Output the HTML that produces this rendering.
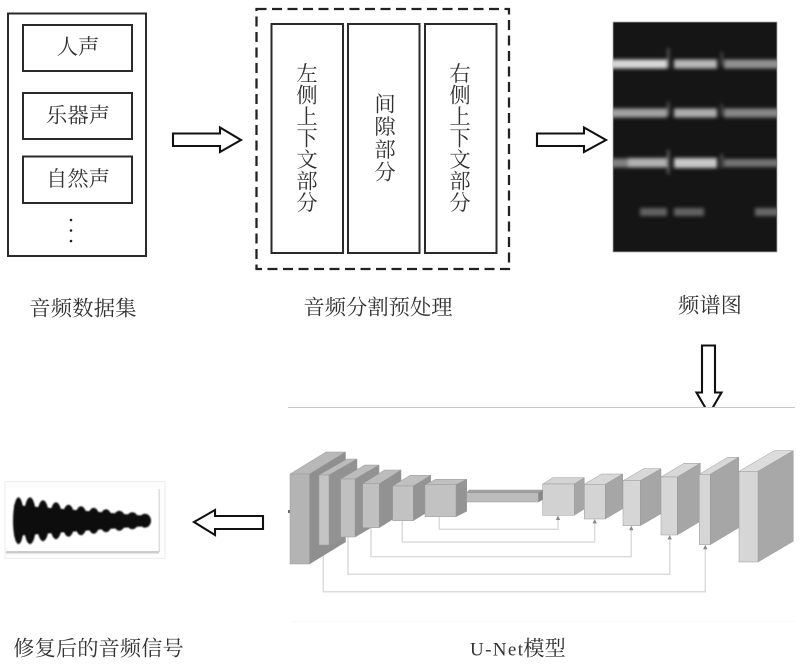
<!DOCTYPE html>
<html><head><meta charset="utf-8"><style>
html,body{margin:0;padding:0;background:#fff;width:800px;height:664px;overflow:hidden}
svg{display:block}
text{font-family:"Liberation Serif","Noto Serif CJK SC",serif;font-size:21.3px;fill:#333;text-anchor:middle}
.b{fill:#fff;stroke:#2a2a2a;stroke-width:2}
.a{fill:#fff;stroke:#111;stroke-width:2.1}
.c{fill:none;stroke:#dcdcdc;stroke-width:1.5}
</style></head><body>
<svg width="800" height="664" viewBox="0 0 800 664" xmlns="http://www.w3.org/2000/svg">
<defs>
<filter id="s" x="-10%" y="-10%" width="120%" height="120%"><feGaussianBlur stdDeviation="0.35"/></filter>
<filter id="bl" x="-20%" y="-100%" width="140%" height="300%"><feGaussianBlur stdDeviation="1.8"/></filter>
<filter id="bw" x="-10%" y="-10%" width="120%" height="120%"><feGaussianBlur stdDeviation="0.9"/></filter>
<clipPath id="sp"><rect x="613" y="22" width="164" height="230"/></clipPath>
<clipPath id="dn"><rect x="680" y="340" width="60" height="67"/></clipPath>
</defs>

<!-- dataset -->
<rect class="b" x="8" y="13.500" width="138" height="242.500"/>
<rect class="b" x="23" y="25" width="109" height="46"/>
<rect class="b" x="23" y="93" width="109" height="46"/>
<rect class="b" x="23" y="156.500" width="109" height="46.500"/>
<g filter="url(#s)">
<text x="78" y="54">人声</text>
<text x="78" y="122.500">乐器声</text>
<text x="78" y="186">自然声</text>
<text x="83" y="315.500" style="letter-spacing:.2px">音频数据集</text>
</g>
<circle cx="71" cy="220" r="1.300" fill="#222"/><circle cx="71" cy="230.500" r="1.300" fill="#222"/><circle cx="71" cy="241" r="1.300" fill="#222"/>

<!-- arrows -->
<path class="a" d="M173 133.500H220V127.500L241 140L220 152V146H173Z"/>
<path class="a" d="M537 133.500H584V127.500L606 140L584 152V146H537Z"/>
<path class="a" clip-path="url(#dn)" d="M702 345.500H715V392.500H721.500L709 414L696.500 392.500H702Z"/>
<path class="a" d="M263 516H215V510L194 522L215 535V529H263Z"/>

<!-- segmentation -->
<rect x="256.500" y="9" width="252.500" height="260" fill="none" stroke="#222" stroke-width="2.300" stroke-dasharray="10 5.500"/>
<rect class="b" x="271.500" y="24" width="71.500" height="229"/>
<rect class="b" x="348" y="24" width="71.500" height="229"/>
<rect class="b" x="425" y="24" width="71.500" height="229"/>
<g filter="url(#s)">
<text x="307" y="81">左</text><text x="307" y="102.500">侧</text><text x="307" y="124">上</text><text x="307" y="145.500">下</text><text x="307" y="167">文</text><text x="307" y="188.500">部</text><text x="307" y="210">分</text>
<text x="385" y="111.500">间</text><text x="385" y="134">隙</text><text x="385" y="157">部</text><text x="385" y="179.500">分</text>
<text x="460" y="81">右</text><text x="460" y="102.500">侧</text><text x="460" y="124">上</text><text x="460" y="145.500">下</text><text x="460" y="167">文</text><text x="460" y="188.500">部</text><text x="460" y="210">分</text>
<text x="378" y="314.500">音频分割预处理</text>
<text x="710" y="312.500">频谱图</text>
</g>

<!-- spectrogram -->
<rect x="613" y="22" width="164" height="230" fill="#151515" stroke="#aaa" stroke-width="0.800"/>
<g clip-path="url(#sp)">
<g filter="url(#bl)">
<rect x="608" y="59.500" width="59" height="9" fill="#d8d8d8"/>
<rect x="674" y="59.500" width="43" height="9" fill="#b8b8b8"/>
<rect x="724" y="59.500" width="58" height="9" fill="#909090"/>
<rect x="608" y="108.500" width="59" height="9" fill="#a0a0a0"/>
<rect x="674" y="108.500" width="43" height="9" fill="#acacac"/>
<rect x="724" y="108.500" width="58" height="9" fill="#868686"/>
<rect x="608" y="158.500" width="20" height="9" fill="#808080"/>
<rect x="628" y="158" width="39" height="9.500" fill="#b0b0b0"/>
<rect x="674" y="158" width="43" height="10" fill="#c8c8c8"/>
<rect x="724" y="159" width="58" height="8" fill="#747474"/>
<rect x="640" y="208" width="27" height="8" fill="#626262"/>
<rect x="674" y="208" width="30" height="8" fill="#626262"/>
<rect x="755" y="208" width="27" height="8" fill="#666"/>
<rect x="667.300" y="48" width="2" height="20" fill="#666"/>
<rect x="667.300" y="102" width="2" height="14" fill="#666"/>
<rect x="667.300" y="150" width="2" height="24" fill="#777"/>
<rect x="720.800" y="52" width="2" height="14" fill="#555"/>
<rect x="720.800" y="104" width="2" height="12" fill="#555"/>
<rect x="720.800" y="154" width="2" height="14" fill="#666"/>
</g>
</g>

<!-- separator lines -->
<line x1="288" y1="407.500" x2="795" y2="407.500" stroke="#c8c8c8" stroke-width="1"/>
<line x1="290" y1="621.500" x2="795" y2="621.500" stroke="#f8f8f8" stroke-width="1"/>

<!-- U-Net connectors -->
<path class="c" d="M439.300 517V529.300H558V520"/>
<path class="c" d="M402.300 521V542H594.700V524"/>
<path class="c" d="M371 528V556.700H631.300V530"/>
<path class="c" d="M348 537V574.300H669.700V540"/>
<path class="c" d="M323.300 545V591.700H705.300V549"/>
<g fill="#888">
<path d="M558 515.500l2.200 4.500h-4.400z"/><path d="M594.700 519l2.200 4.500h-4.400z"/><path d="M631.300 525.700l2.200 4.500h-4.400z"/><path d="M669.700 535l2.200 4.500h-4.400z"/><path d="M705.300 544.700l2.200 4.500h-4.400z"/>
</g>
<rect x="288" y="510" width="2.500" height="3" fill="#666"/>

<!-- U-Net blocks -->
<g stroke="#999" stroke-width="0.500" filter="url(#s)">
<g><path fill="#b8b8b8" d="M290 474L326 452H345.500L309.500 474Z"/><path fill="#8f8f8f" d="M309.500 474L345.500 452V542L309.500 564Z"/><rect fill="#b4b4b4" x="290" y="474" width="19.500" height="90"/></g>
<g><path fill="#bcbcbc" d="M319 475L347 459H357L329 475Z"/><path fill="#929292" d="M329 475L357 459V529L329 545Z"/><rect fill="#c4c4c4" x="319" y="475" width="10" height="70"/></g>
<g><path fill="#bcbcbc" d="M340.700 479L364.700 465H379L355 479Z"/><path fill="#929292" d="M355 479L379 465V523L355 537Z"/><rect fill="#c0c0c0" x="340.700" y="479" width="14.300" height="58"/></g>
<g><path fill="#bcbcbc" d="M362.700 483.700L384.700 470H401L379.300 483.700Z"/><path fill="#929292" d="M379.300 483.700L401 470V514L379.300 527.700Z"/><rect fill="#c0c0c0" x="362.700" y="483.700" width="16.600" height="44"/></g>
<g><path fill="#c0c0c0" d="M392.700 486L410 475.300H430.700L413.300 486Z"/><path fill="#949494" d="M413.300 486L430.700 475.300V510L413.300 520.700Z"/><rect fill="#c2c2c2" x="392.700" y="486" width="20.600" height="34.700"/></g>
<g><path fill="#c0c0c0" d="M425 484.700L435.700 479.300H466.700L456 484.700Z"/><path fill="#949494" d="M456 484.700L466.700 479.300V511.300L456 516.700Z"/><rect fill="#c2c2c2" x="425" y="484.700" width="31" height="32"/></g>
<g><path fill="#a0a0a0" d="M466.700 492.700L469 490H543L538.300 492.700Z"/><path fill="#888" d="M538.300 492.700L543 490V499.500L538.300 502Z"/><rect fill="#bcbcbc" x="466.700" y="492.700" width="71.600" height="9.300"/></g>
<g><path fill="#d4d4d4" d="M542.700 484L552.700 477.700H584.300L574.300 484Z"/><path fill="#a6a6a6" d="M574.300 484L584.300 477.700V509L574.300 515.300Z"/><rect fill="#d2d2d2" x="542.700" y="484" width="31.600" height="31.300"/></g>
<g><path fill="#d8d8d8" d="M584.300 484.300L601.600 474H622.700L605.300 484.300Z"/><path fill="#a6a6a6" d="M605.300 484.300L622.700 474V508.700L605.300 519Z"/><rect fill="#d4d4d4" x="584.300" y="484.300" width="21" height="34.700"/></g>
<g><path fill="#d8d8d8" d="M623 480.700L643.700 468.700H661L640.300 480.700Z"/><path fill="#a6a6a6" d="M640.300 480.700L661 468.700V513.700L640.300 525.700Z"/><rect fill="#d6d6d6" x="623" y="480.700" width="17.300" height="45"/></g>
<g><path fill="#d8d8d8" d="M661 477L684 463.300H700.300L677.300 477Z"/><path fill="#a6a6a6" d="M677.300 477L700.300 463.300V521.300L677.300 535Z"/><rect fill="#d6d6d6" x="661" y="477" width="16.300" height="58"/></g>
<g><path fill="#d8d8d8" d="M699.300 474.300L727.700 457.300H738.700L710.300 474.300Z"/><path fill="#a6a6a6" d="M710.300 474.300L738.700 457.300V527.700L710.300 544.700Z"/><rect fill="#d6d6d6" x="699.300" y="474.300" width="11" height="70.400"/></g>
<g><path fill="#dcdcdc" d="M739 471.300L774.300 450.700H793.300L758 471.300Z"/><path fill="#a8a8a8" d="M758 471.300L793.300 450.700V541.300L758 562Z"/><rect fill="#d6d6d6" x="739" y="471.300" width="19" height="90.700"/></g>
</g>

<!-- waveform -->
<rect x="5" y="481.500" width="160" height="77" fill="#fdfdfd" stroke="#eee" stroke-width="1.200"/>
<rect x="6" y="488" width="153" height="64" fill="#fff"/>
<rect x="6" y="551" width="153" height="2.500" fill="#ccc"/>
<rect x="158.500" y="489" width="1.500" height="63" fill="#ddd"/>
<g fill="#111" filter="url(#bw)">
<path d="M14 505L148 516V526L14 536Z"/>
<ellipse cx="18.500" cy="520.700" rx="5.500" ry="23.500"/>
<ellipse cx="30" cy="520.700" rx="6.300" ry="23.500"/>
<ellipse cx="43" cy="520.700" rx="6.300" ry="20.500"/>
<ellipse cx="56" cy="520.700" rx="6.300" ry="18.500"/>
<ellipse cx="68.500" cy="520.700" rx="6.300" ry="16"/>
<ellipse cx="81" cy="520.700" rx="6.300" ry="14.500"/>
<ellipse cx="93.700" cy="520.700" rx="6.300" ry="13"/>
<ellipse cx="106" cy="520.700" rx="6.300" ry="11.500"/>
<ellipse cx="119.300" cy="520.700" rx="6.300" ry="10"/>
<ellipse cx="132.300" cy="520.700" rx="6.300" ry="8.500"/>
<ellipse cx="145" cy="520.700" rx="6" ry="7"/>
</g>

<!-- bottom labels -->
<g filter="url(#s)">
<text x="98.500" y="655.500">修复后的音频信号</text>
<text x="470" y="655.500" textLength="53" style="text-anchor:start;font-size:19px">U-Net</text>
<text x="544.500" y="655.500">模型</text>
</g>
</svg>
</body></html>
